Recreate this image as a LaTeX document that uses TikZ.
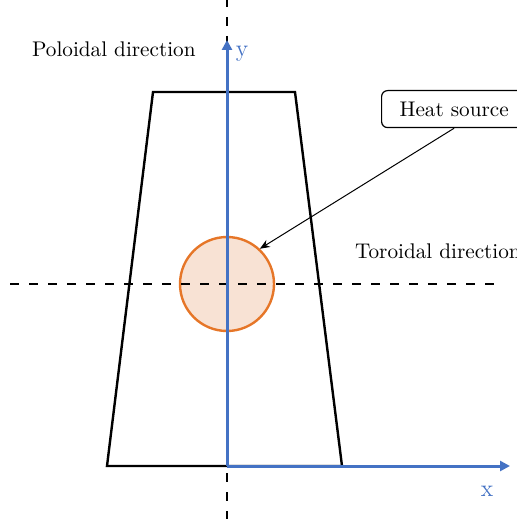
\documentclass[tikz,border=0pt]{standalone}
\usetikzlibrary{arrows.meta, positioning}
\definecolor{axisblue}{RGB}{68, 114, 196}
\definecolor{heatorange}{RGB}{230, 118, 40}
\definecolor{heatfill}{RGB}{248, 226, 212}

\begin{document}
\begin{tikzpicture}[
        x=0.5pt, y=-0.5pt,
        txt/.style={font=\fontsize{10.6pt}{12pt}\selectfont},
        body/.style={draw=black, line width=1.2pt, line join=miter},
        guide/.style={draw=black, line width=1.4pt, dash pattern=on 4.5pt off 5pt},
        axis/.style={-{Triangle[length=5pt, width=5pt]}, line width=1.5pt, axisblue},
        heat/.style={circle, draw=heatorange, fill=heatfill, line width=1.2pt, minimum size=47pt, inner sep=0pt},
        callout/.style={txt, draw, rounded corners=3pt, line width=0.6pt, minimum height=18.5pt, inner xsep=9pt},
        arr/.style={-{Stealth[length=5pt, width=4pt]}, line width=0.5pt}
      ]
        \useasboundingbox (0,0) rectangle (517,519);

        % trapezoid cross section
        \draw[body] (107,466) -- (153,92) -- (295,92) -- (342,466) -- cycle;

        \node[heat] (src) at (227,284) {};

        % dashed guides
        \coordinate (tl) at (10,284);
        \coordinate (tr) at (497,284);
        \coordinate (pt) at (227,-2);
        \coordinate (pb) at (227,521);
        \draw[guide] (tl) -- (tr);
        \draw[guide] (pt) -- (pb);

        % axes
        \coordinate (O) at (227,466);
        \coordinate (ytip) at (227,40);
        \coordinate (xtip) at (510,466);
        \draw[axis] (O) -- (ytip);
        \draw[axis] (O) -- (xtip);
        \node[axisblue, font=\large] (ylab) at (242,54) {y};
        \node[axisblue, font=\large] (xlab) at (487,491) {x};

        \node[txt, anchor=west] (pol) at (25,49) {Poloidal direction};
        \node[txt, anchor=west] (tor) at (348,251) {Toroidal direction};

        \node[callout, anchor=north west] (box) at (381,90) {Heat source};
        \draw[arr] (box.south) -- (src.47);
      \end{tikzpicture}
\end{document}
